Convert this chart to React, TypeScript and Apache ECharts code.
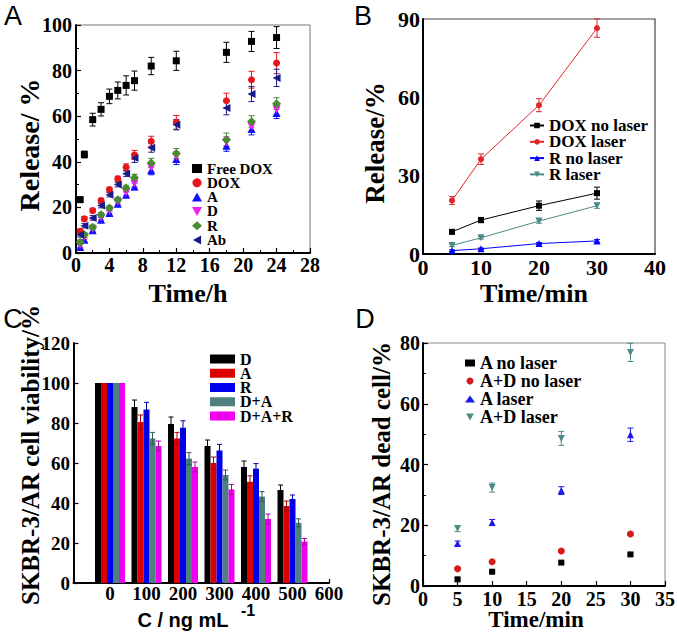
import React, { useEffect, useRef } from 'react';
import * as echarts from 'echarts';

// ---------- Panel A data ----------
const timeA = [0.5, 1, 2, 3, 4, 5, 6, 7, 9, 12, 18, 21, 24];
const relFreeDox = [23.4, 43.2, 58.5, 63, 68.7, 71.3, 73.5, 75.6, 82, 84.3, 88, 92.8, 94.5];
const errFreeDox = [1, 1.5, 2.8, 2.9, 3.2, 3.7, 4.2, 4.2, 3.8, 4.2, 4.4, 4.4, 4.8];
const relDox = [9.5, 15, 18.6, 23, 27.8, 32.5, 37.6, 43, 49, 57.3, 66.8, 76, 83.3];
const errDox = [1, 1, 1, 1, 1, 1.2, 1.5, 2, 2.2, 3, 3.3, 3.7, 4.6];
const relA = [2.6, 5.8, 10, 14.6, 17.5, 21.6, 25.6, 29.2, 36.3, 41.2, 47, 54.4, 61.4];
const errA = [1, 1, 1, 1, 1, 1, 1.2, 1.5, 2, 2.4, 2.4, 2.6, 2.4];
const relD = [3.5, 7, 10.5, 15.5, 18.5, 22.5, 26.5, 30.5, 37.5, 42.2, 48.5, 55.5, 63];
const errD = [1, 1, 1, 1, 1, 1, 1.2, 1.5, 2, 2.3, 2.5, 2.5, 2.5];
const relR = [4.7, 8, 11.3, 16.8, 19.7, 23.4, 28.5, 33, 39.5, 43.6, 49.7, 57.7, 65.5];
const errR = [1, 1, 1, 1, 1, 1, 1.2, 1.5, 2, 2.2, 2.9, 2.5, 2.6];
const relAb = [8, 12, 15.4, 20.8, 25.6, 30, 34.8, 41.7, 46.2, 56.3, 63.6, 69.7, 76.8];
const errAb = [1, 1, 1, 1, 1, 1, 1.2, 2, 2, 2.3, 3, 3.3, 3.8];

// ---------- Panel B data ----------
const timeB = [5, 10, 20, 30];
const doxNoLaser = [8.5, 13, 18.5, 23.3];
const errDoxNoLaser = [0.8, 1, 1.8, 2.3];
const doxLaser = [20.5, 36.3, 57, 86.5];
const errDoxLaser = [1.5, 2, 2.5, 3.5];
const rNoLaser = [1.3, 2, 4, 5];
const errRNoLaser = [0.3, 0.3, 0.4, 0.5];
const rLaser = [3.3, 6.2, 12.6, 18.5];
const errRLaser = [0.5, 0.5, 0.8, 1];

// ---------- Panel C data ----------
const concLabels = ['', '0', '100', '200', '300', '400', '500', '600'];
const viabD = [100, 88, 79.5, 68.5, 58, 46.5];
const viabA = [100, 80.5, 72.3, 60, 50.6, 38.5];
const viabR = [100, 86.8, 77.6, 66.3, 57.2, 42];
const viabDA = [100, 72.3, 62.2, 54, 43.2, 30.1];
const viabDAR = [100, 68.5, 58, 46.8, 32, 20.7];
const errViabD = [0, 3.5, 3.5, 3, 3, 2.5];
const errViabA = [0, 3.5, 3, 3, 3, 2.5];
const errViabR = [0, 3.5, 3.5, 3, 2.5, 2];
const errViabDA = [0, 3, 3, 2.5, 2.5, 2];
const errViabDAR = [0, 2.5, 2.5, 2.5, 2.5, 1.5];

// ---------- Panel D data ----------
const timeD = [5, 10, 20, 30];
const deadANoLaser = [2.2, 4.7, 7.7, 10.4];
const errDeadANoLaser = [0.5, 0.3, 0.3, 0.4];
const deadADNoLaser = [5.7, 8, 11.5, 17.1];
const errDeadADNoLaser = [0.3, 0.3, 0.4, 0.5];
const deadALaser = [14, 20.9, 31.4, 49.8];
const errDeadALaser = [0.8, 1, 1.3, 2.2];
const deadADLaser = [18.9, 32.4, 48.6, 76.9];
const errDeadADLaser = [1, 1.5, 2.3, 3];

const serif = 'Liberation Serif';
const sans = 'Liberation Sans';

const DOWN_TRI = 'path://M0,0L10,0L5,9Z';
const LEFT_TRI = 'path://M0,5L9,0L9,10Z';

function errSeries(
  name: string, gi: number, xs: number[], ys: number[], es: number[],
  color: string, cap: number, dx = 0
) {
  const data: number[][] = [];
  xs.forEach((x, i) => { if (es[i] > 0 && ys[i] != null) data.push([x, ys[i], es[i]]); });
  return {
    type: 'custom', name, xAxisIndex: gi, yAxisIndex: gi, z: 1, silent: true,
    encode: { x: 0, y: 1 },
    data,
    renderItem: (_p: any, api: any) => {
      const x = api.value(0), y = api.value(1), e = api.value(2);
      const lo = api.coord([x, y - e]);
      const hi = api.coord([x, y + e]);
      const cx = lo[0] + dx;
      const st = { stroke: color, lineWidth: 1 };
      return {
        type: 'group',
        children: [
          { type: 'line', shape: { x1: cx, y1: lo[1], x2: cx, y2: hi[1] }, style: st },
          { type: 'line', shape: { x1: cx - cap, y1: lo[1], x2: cx + cap, y2: lo[1] }, style: st },
          { type: 'line', shape: { x1: cx - cap, y1: hi[1], x2: cx + cap, y2: hi[1] }, style: st },
        ],
      };
    },
  };
}

function label(size: number, margin: number) {
  return {
    fontFamily: serif, fontWeight: 'bold', fontSize: size, color: '#000', margin,
    showMinLabel: true, showMaxLabel: true,
  };
}

function valueAxis(gi: number, min: number, max: number, interval: number, size: number, margin: number,
  minor: boolean, tick: boolean) {
  return {
    type: 'value', gridIndex: gi, min, max, interval,
    axisLine: { show: true, onZero: false, lineStyle: { color: '#000', width: 2 } },
    axisTick: { show: tick, inside: true, length: 5, lineStyle: { color: '#000', width: 1.2 } },
    minorTick: { show: minor, splitNumber: 2, length: 3, lineStyle: { color: '#000', width: 1 } },
    splitLine: { show: false },
    minorSplitLine: { show: false },
    axisLabel: label(size, margin),
  };
}

function scatter(name: string, gi: number, xs: number[], ys: number[], color: string, symbol: string, size: number) {
  return {
    type: 'scatter', name, xAxisIndex: gi, yAxisIndex: gi, z: 3,
    symbol, symbolSize: size,
    itemStyle: { color, opacity: 1 },
    data: xs.map((x, i) => [x, ys[i]]),
  };
}

function lineS(name: string, xs: number[], ys: number[], color: string, symbol: string, size: number) {
  return {
    type: 'line', name, xAxisIndex: 1, yAxisIndex: 1, z: 3,
    symbol, symbolSize: size, showSymbol: true,
    lineStyle: { color, width: 1 },
    itemStyle: { color },
    data: xs.map((x, i) => [x, ys[i]]),
  };
}

function barS(name: string, ys: number[], color: string) {
  return {
    type: 'bar', name, xAxisIndex: 2, yAxisIndex: 2, z: 2,
    barWidth: 6, barGap: '0%',
    itemStyle: { color },
    data: [null, ...ys, null],
  };
}

const axisTitle = (text: string, x: number, y: number, size: number, rotate = false) => ({
  type: 'text', x, y, rotation: rotate ? Math.PI / 2 : 0, silent: true,
  style: {
    text, fill: '#000', fontFamily: serif, fontWeight: 'bold', fontSize: size,
    align: 'center', verticalAlign: 'middle',
  },
});

const panelLetter = (text: string, x: number, y: number) => ({
  type: 'text', x, y, silent: true,
  style: { text, fill: '#000', fontFamily: sans, fontSize: 27, align: 'center', verticalAlign: 'middle' },
});

const legendText = (size: number) => ({
  fontFamily: serif, fontWeight: 'bold', fontSize: size, color: '#000',
});

export default function App() {
  const ref = useRef<HTMLDivElement>(null);
  useEffect(() => {
    if (!ref.current) return;
    const chart = echarts.init(ref.current, undefined, { renderer: 'svg' });
    const cA = ['#000000', '#e8161b', '#1010ff', '#f020f0', '#4a8a30', '#1a1a8a'];
    const cB = ['#000000', '#e0262b', '#0000ff', '#4d8a85'];
    const cC = ['#000000', '#dd0000', '#0000ee', '#4f8080', '#ee00ee'];
    const cD = ['#000000', '#d41c1c', '#1a1aee', '#4d8a85'];
    const catIdx = [1, 2, 3, 4, 5, 6];

    const option: any = {
      animation: false,
      backgroundColor: '#ffffff',
      textStyle: { fontFamily: serif },
      grid: [
        { left: 76, top: 25, width: 234, height: 228, show: true, borderColor: '#777', borderWidth: 1, backgroundColor: 'transparent', outerBoundsMode: 'none' },
        { left: 423, top: 19, width: 232, height: 235, show: true, borderColor: '#444', borderWidth: 1.2, backgroundColor: 'transparent', outerBoundsMode: 'none' },
        { left: 73.5, top: 343, width: 255.5, height: 240, show: false, outerBoundsMode: 'none' },
        { left: 423, top: 343, width: 242, height: 243, show: true, borderColor: '#888', borderWidth: 1, backgroundColor: 'transparent', outerBoundsMode: 'none' },
      ],
      xAxis: [
        valueAxis(0, 0, 28, 4, 20, 2, true, true),
        valueAxis(1, 0, 40, 10, 22, 2, false, false),
        {
          type: 'category', gridIndex: 2, data: concLabels, boundaryGap: false,
          axisLine: { show: true, lineStyle: { color: '#000', width: 2 } },
          axisTick: { show: true, inside: true, length: 4, lineStyle: { color: '#000', width: 1.2 } },
          splitLine: { show: false },
          axisLabel: { ...label(19, 1), interval: 0 },
        },
        valueAxis(3, 0, 35, 5, 20, 3, false, true),
      ],
      yAxis: [
        valueAxis(0, 0, 100, 20, 20, 4, true, true),
        valueAxis(1, 0, 90, 30, 22, 3, false, false),
        valueAxis(2, 0, 120, 20, 19, 3.5, false, true),
        valueAxis(3, 0, 80, 20, 20, 3, true, true),
      ],
      legend: [
        {
          orient: 'vertical', left: 192, top: 161, padding: 0, itemGap: -0.7,
          itemWidth: 10, itemHeight: 9,
          textStyle: legendText(15),
          data: ['Free DOX', 'DOX', 'A', 'D', 'R', 'Ab'],
        },
        {
          orient: 'vertical', left: 529, top: 117, padding: 0, itemGap: -0.7,
          itemWidth: 14, itemHeight: 7,
          textStyle: legendText(17),
          data: ['DOX no laser', 'DOX laser', 'R no laser', 'R laser'],
        },
        {
          orient: 'vertical', left: 210, top: 351, padding: 0, itemGap: -1.75,
          itemWidth: 25, itemHeight: 9, icon: 'rect',
          textStyle: legendText(16),
          formatter: (n: string) => n.trim(),
          data: ['D ', 'A ', 'R ', 'D+A', 'D+A+R'],
        },
        {
          orient: 'vertical', left: 465, top: 354, padding: 0, itemGap: 0,
          itemWidth: 10, itemHeight: 7,
          textStyle: legendText(18),
          data: ['A no laser', 'A+D no laser', 'A laser', 'A+D laser'],
        },
      ],
      series: [
        // Panel A
        errSeries('eFree', 0, timeA, relFreeDox, errFreeDox, cA[0], 3),
        errSeries('eDox', 0, timeA, relDox, errDox, cA[1], 3),
        errSeries('eA', 0, timeA, relA, errA, cA[2], 3),
        errSeries('eD', 0, timeA, relD, errD, cA[3], 3),
        errSeries('eR', 0, timeA, relR, errR, cA[4], 3),
        errSeries('eAb', 0, timeA, relAb, errAb, cA[5], 3),
        scatter('Free DOX', 0, timeA, relFreeDox, cA[0], 'rect', 7),
        scatter('DOX', 0, timeA, relDox, cA[1], 'circle', 7),
        scatter('A', 0, timeA, relA, cA[2], 'triangle', 8),
        scatter('D', 0, timeA, relD, cA[3], DOWN_TRI, 8),
        scatter('R', 0, timeA, relR, cA[4], 'diamond', 9),
        scatter('Ab', 0, timeA, relAb, cA[5], LEFT_TRI, 8),
        // Panel B
        errSeries('eB0', 1, timeB, doxNoLaser, errDoxNoLaser, cB[0], 3),
        errSeries('eB1', 1, timeB, doxLaser, errDoxLaser, cB[1], 3),
        errSeries('eB2', 1, timeB, rNoLaser, errRNoLaser, cB[2], 3),
        errSeries('eB3', 1, timeB, rLaser, errRLaser, cB[3], 3),
        lineS('DOX no laser', timeB, doxNoLaser, cB[0], 'rect', 6),
        lineS('DOX laser', timeB, doxLaser, cB[1], 'circle', 6),
        lineS('R no laser', timeB, rNoLaser, cB[2], 'triangle', 7),
        lineS('R laser', timeB, rLaser, cB[3], DOWN_TRI, 7),
        // Panel C
        barS('D ', viabD, cC[0]),
        barS('A ', viabA, cC[1]),
        barS('R ', viabR, cC[2]),
        barS('D+A', viabDA, cC[3]),
        barS('D+A+R', viabDAR, cC[4]),
        { ...errSeries('eC0', 2, catIdx, viabD, errViabD, '#000', 2.5, -12), z: 4 },
        { ...errSeries('eC1', 2, catIdx, viabA, errViabA, '#aa0000', 2.5, -6), z: 4 },
        { ...errSeries('eC2', 2, catIdx, viabR, errViabR, '#0000aa', 2.5, 0), z: 4 },
        { ...errSeries('eC3', 2, catIdx, viabDA, errViabDA, '#2f5a5a', 2.5, 6), z: 4 },
        { ...errSeries('eC4', 2, catIdx, viabDAR, errViabDAR, '#aa00aa', 2.5, 12), z: 4 },
        // Panel D
        errSeries('eD0', 3, timeD, deadANoLaser, errDeadANoLaser, cD[0], 3),
        errSeries('eD1', 3, timeD, deadADNoLaser, errDeadADNoLaser, cD[1], 3),
        errSeries('eD2', 3, timeD, deadALaser, errDeadALaser, cD[2], 3),
        errSeries('eD3', 3, timeD, deadADLaser, errDeadADLaser, cD[3], 3),
        scatter('A no laser', 3, timeD, deadANoLaser, cD[0], 'rect', 6),
        scatter('A+D no laser', 3, timeD, deadADNoLaser, cD[1], 'circle', 7),
        scatter('A laser', 3, timeD, deadALaser, cD[2], 'triangle', 7),
        scatter('A+D laser', 3, timeD, deadADLaser, cD[3], DOWN_TRI, 7),
      ],
      graphic: [
        panelLetter('A', 13, 16),
        panelLetter('B', 363, 16),
        panelLetter('C', 13, 319),
        panelLetter('D', 365, 319),
        axisTitle('Time/h', 188, 293, 26),
        axisTitle('Release/ %', 29, 145, 28, true),
        axisTitle('Time/min', 534, 293, 26),
        axisTitle('Release/%', 375, 143, 27, true),
        axisTitle('SKBR-3/AR cell viability/%', 30, 455, 25, true),
        axisTitle('Time/min', 536, 619, 23),
        axisTitle('SKBR-3/AR dead cell/%', 381, 474, 25, true),
        {
          type: 'text', x: 183, y: 620, silent: true,
          style: { text: 'C / ng mL', fill: '#000', fontFamily: sans, fontWeight: 'bold', fontSize: 20, align: 'center', verticalAlign: 'middle' },
        },
        {
          type: 'text', x: 248, y: 610, silent: true,
          style: { text: '-1', fill: '#000', fontFamily: sans, fontWeight: 'bold', fontSize: 16, align: 'center', verticalAlign: 'middle' },
        },
      ],
    };
    chart.setOption(option);
    return () => chart.dispose();
  }, []);
  return <div ref={ref} style={{ width: 677, height: 632, position: 'absolute', left: 0, top: 0 }} />;
}
